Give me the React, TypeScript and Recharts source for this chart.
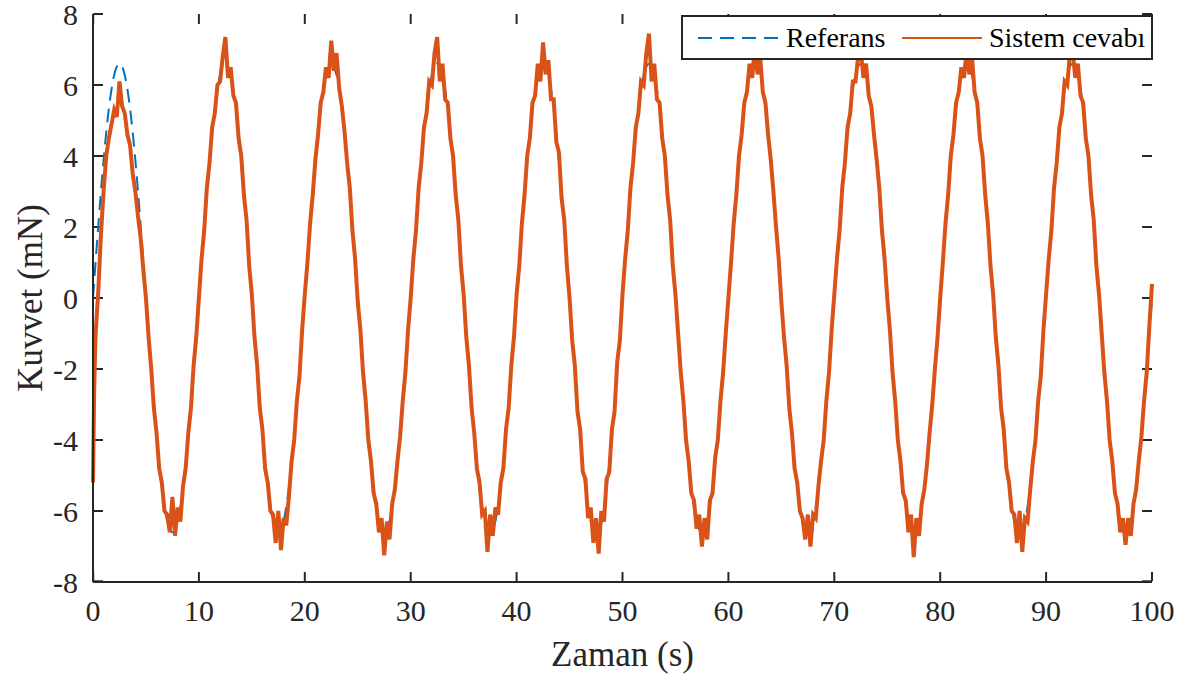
import React from 'react';
import { LineChart, Line, XAxis, YAxis, Label, ReferenceLine } from 'recharts';

// sample steps (s)
const REF_STEP = 0.5;
const SYS_STEP = 0.25;

const xTicks = [0, 10, 20, 30, 40, 50, 60, 70, 80, 90, 100];
const yTicks = [-8, -6, -4, -2, 0, 2, 4, 6, 8];

// Referans, every 0.5 s from 0 to 100
const refValues = [
  0, 2.04, 3.88, 5.34, 6.28, 6.6, 6.28, 5.34, 3.88, 2.04, 0, -2.04, -3.88, -5.34, -6.28, -6.6, -6.28, -5.34, -3.88, -2.04,
  0, 2.04, 3.88, 5.34, 6.28, 6.6, 6.28, 5.34, 3.88, 2.04, 0, -2.04, -3.88, -5.34, -6.28, -6.6, -6.28, -5.34, -3.88, -2.04,
  0, 2.04, 3.88, 5.34, 6.28, 6.6, 6.28, 5.34, 3.88, 2.04, 0, -2.04, -3.88, -5.34, -6.28, -6.6, -6.28, -5.34, -3.88, -2.04,
  0, 2.04, 3.88, 5.34, 6.28, 6.6, 6.28, 5.34, 3.88, 2.04, 0, -2.04, -3.88, -5.34, -6.28, -6.6, -6.28, -5.34, -3.88, -2.04,
  0, 2.04, 3.88, 5.34, 6.28, 6.6, 6.28, 5.34, 3.88, 2.04, 0, -2.04, -3.88, -5.34, -6.28, -6.6, -6.28, -5.34, -3.88, -2.04,
  0, 2.04, 3.88, 5.34, 6.28, 6.6, 6.28, 5.34, 3.88, 2.04, 0, -2.04, -3.88, -5.34, -6.28, -6.6, -6.28, -5.34, -3.88, -2.04,
  0, 2.04, 3.88, 5.34, 6.28, 6.6, 6.28, 5.34, 3.88, 2.04, 0, -2.04, -3.88, -5.34, -6.28, -6.6, -6.28, -5.34, -3.88, -2.04,
  0, 2.04, 3.88, 5.34, 6.28, 6.6, 6.28, 5.34, 3.88, 2.04, 0, -2.04, -3.88, -5.34, -6.28, -6.6, -6.28, -5.34, -3.88, -2.04,
  0, 2.04, 3.88, 5.34, 6.28, 6.6, 6.28, 5.34, 3.88, 2.04, 0, -2.04, -3.88, -5.34, -6.28, -6.6, -6.28, -5.34, -3.88, -2.04,
  0, 2.04, 3.88, 5.34, 6.28, 6.6, 6.28, 5.34, 3.88, 2.04, 0, -2.04, -3.88, -5.34, -6.28, -6.6, -6.28, -5.34, -3.88, -2.04,
  0,
];

// Sistem cevabı: start-up transient (irregular times)
const sysStartTimes = [0, 0.05, 0.1, 0.15, 0.2];
const sysStartValues = [-5.2, -4.0, -2.8, -2.1, -1.5];

// Sistem cevabı, every 0.25 s from 0.25 to 100 (one row per half period)
const sysValues = [
  -1.0, 0.2, 1.8, 3.0, 4.0, 4.5, 4.9, 5.3, 5.1, 6.1, 5.4, 5.2, 4.6, 4.3, 3.5, 3.0, 2.3, 1.7, 0.8, 0.0,
  -1.1, -2.0, -3.1, -3.8, -4.8, -5.2, -6.0, -6.1, -6.6, -5.6, -6.7, -5.9, -6.3, -5.3, -4.8, -3.8, -3.1, -1.9, -1.1, 0.0,
  1.1, 1.9, 3.1, 3.8, 4.8, 5.2, 6.0, 6.1, 6.8, 7.35, 6.2, 6.5, 5.7, 5.5, 4.5, 4.0, 2.9, 2.2, 0.9, 0.1,
  -1.1, -1.9, -3.1, -3.7, -4.8, -5.2, -6.0, -6.1, -6.9, -6.0, -7.1, -6.2, -6.4, -5.6, -4.6, -4.0, -2.9, -2.2, -0.9, 0.1,
  1.0, 2.1, 2.9, 3.9, 4.6, 5.5, 5.8, 6.5, 6.2, 7.25, 6.4, 6.9, 5.9, 5.4, 4.7, 3.8, 3.1, 1.9, 1.1, -0.1,
  -0.9, -2.1, -2.9, -4.0, -4.6, -5.5, -5.8, -6.6, -6.2, -7.25, -6.3, -6.8, -5.8, -5.4, -4.6, -3.9, -2.9, -2.1, -0.9, 0.0,
  1.1, 1.9, 3.1, 3.8, 4.8, 5.2, 6.1, 6.0, 6.9, 7.35, 6.1, 6.6, 5.6, 5.5, 4.5, 4.0, 2.9, 2.2, 0.9, 0.1,
  -1.1, -1.9, -3.1, -3.8, -4.8, -5.2, -6.1, -6.0, -7.15, -6.1, -6.7, -5.9, -6.1, -5.2, -4.8, -3.7, -3.1, -1.9, -1.1, 0.1,
  0.9, 2.1, 2.9, 4.0, 4.5, 5.5, 5.7, 6.6, 6.1, 7.2, 6.3, 6.7, 5.6, 5.6, 4.4, 4.1, 2.8, 2.2, 0.9, 0.0,
  -1.2, -1.9, -3.2, -3.7, -4.9, -5.1, -6.2, -5.9, -6.9, -6.2, -7.2, -6.0, -6.3, -5.1, -4.9, -3.7, -3.2, -1.8, -1.2, 0.1,
  1.1, 1.9, 3.1, 3.8, 4.8, 5.2, 6.1, 6.0, 6.9, 7.45, 6.1, 6.6, 5.6, 5.5, 4.5, 4.0, 2.9, 2.2, 0.9, 0.1,
  -1.0, -2.1, -2.9, -4.0, -4.6, -5.5, -5.7, -6.5, -6.1, -7.0, -6.2, -6.8, -5.7, -5.5, -4.5, -4.0, -2.9, -2.1, -1.0, 0.0,
  1.0, 2.1, 2.9, 4.0, 4.6, 5.5, 5.8, 6.6, 6.2, 7.1, 6.3, 6.8, 5.8, 5.5, 4.6, 3.9, 3.0, 2.0, 1.1, -0.1,
  -1.1, -1.9, -3.1, -3.8, -4.8, -5.2, -6.0, -6.2, -6.8, -6.1, -7.0, -6.1, -6.2, -5.3, -4.6, -4.0, -2.9, -2.1, -0.9, 0.1,
  1.1, 1.9, 3.1, 3.8, 4.8, 5.2, 6.1, 6.1, 6.8, 7.0, 6.2, 6.6, 5.7, 5.4, 4.6, 3.9, 3.1, 1.9, 1.1, 0.0,
  -0.9, -2.1, -2.9, -4.0, -4.6, -5.5, -5.7, -6.6, -6.1, -7.3, -6.2, -6.7, -5.8, -5.4, -4.7, -3.8, -3.0, -2.0, -1.1, 0.0,
  1.0, 2.1, 2.9, 4.0, 4.6, 5.5, 5.8, 6.5, 6.2, 7.0, 6.3, 6.8, 5.8, 5.5, 4.5, 4.0, 2.9, 2.1, 0.9, 0.1,
  -1.1, -1.9, -3.1, -3.7, -4.8, -5.2, -6.0, -6.1, -6.9, -6.0, -7.15, -6.2, -6.3, -5.4, -4.6, -4.0, -2.9, -2.2, -0.9, 0.1,
  1.1, 1.9, 3.1, 3.8, 4.8, 5.2, 6.1, 6.0, 6.9, 7.0, 6.2, 6.6, 5.7, 5.5, 4.5, 4.0, 2.9, 2.2, 0.9, 0.1,
  -1.0, -2.1, -2.9, -4.0, -4.6, -5.5, -5.8, -6.6, -6.2, -6.95, -6.2, -6.7, -5.8, -5.4, -4.6, -3.9, -2.9, -2.1, -0.8, 0.4,
];

const refData = refValues.map((v, i) => ({ t: i * REF_STEP, v }));
const sysData = [
  ...sysStartTimes.map((t, i) => ({ t, v: sysStartValues[i] })),
  ...sysValues.map((v, i) => ({ t: (i + 1) * SYS_STEP, v })),
];

const X_MIN = 0;
const X_MAX = 100;
const Y_MIN = -8;
const Y_MAX = 8;
// inward tick length, in axis units (about 10 px each way)
const X_TICK_LEN = 0.28;
const Y_TICK_LEN = 0.94;
// keep tick segments a hair inside the low edges so they are not dropped
const EDGE = 0.02;

const FONT = '"Liberation Serif", "Times New Roman", serif';
const AXIS = '#262626';
const BLUE = '#0072BD';
const ORANGE = '#D95319';

const axisLine = { stroke: AXIS, strokeWidth: 2 };
const tickText = { fontSize: 30, fontFamily: FONT, fill: AXIS };

const Legend = () => (
  <div
    style={{
      position: 'absolute',
      left: 681,
      top: 15,
      width: 472,
      height: 45,
      boxSizing: 'border-box',
      border: `2px solid ${AXIS}`,
      background: '#fff',
      fontFamily: FONT,
      fontSize: 28,
      color: '#000',
    }}
  >
    <svg style={{ position: 'absolute', left: 14, top: 16 }} width={82} height={10}>
      <line x1={1} x2={81} y1={5} y2={5} stroke={BLUE} strokeWidth={2} strokeDasharray="14 8" />
    </svg>
    <span style={{ position: 'absolute', left: 103, top: 0, lineHeight: '41px' }}>Referans</span>
    <svg style={{ position: 'absolute', left: 218, top: 16 }} width={82} height={10}>
      <line x1={1} x2={81} y1={5} y2={5} stroke={ORANGE} strokeWidth={2} />
    </svg>
    <span style={{ position: 'absolute', left: 306, top: 0, lineHeight: '41px' }}>Sistem cevabı</span>
  </div>
);

export default function App() {
  const tickMark = { stroke: AXIS, strokeWidth: 2, ifOverflow: 'visible' as const };
  return (
    <div style={{ position: 'absolute', left: 0, top: 0, width: 1191, height: 682, background: '#fff' }}>
      <LineChart width={1191} height={682} margin={{ top: 14, right: 39, bottom: 70, left: 0 }}>
        <XAxis
          dataKey="t"
          type="number"
          domain={[X_MIN, X_MAX]}
          ticks={xTicks}
          interval={0}
          height={30}
          tickSize={0}
          tickMargin={18}
          tickLine={false}
          tick={tickText}
          axisLine={axisLine}
        >
          <Label
            content={({ viewBox }: any) => (
              <text
                x={viewBox.x + viewBox.width / 2}
                y={viewBox.y + viewBox.height + 29}
                dy="0.71em"
                textAnchor="middle"
                fontSize={35}
                fontFamily={FONT}
                fill={AXIS}
              >
                Zaman (s)
              </text>
            )}
          />
        </XAxis>
        <XAxis
          xAxisId="top"
          orientation="top"
          type="number"
          domain={[X_MIN, X_MAX]}
          ticks={xTicks}
          height={0}
          tickLine={false}
          tick={false}
          axisLine={axisLine}
        />
        <YAxis
          type="number"
          domain={[Y_MIN, Y_MAX]}
          ticks={yTicks}
          interval={0}
          width={93}
          tickSize={0}
          tickMargin={15}
          tickLine={false}
          tick={tickText}
          axisLine={axisLine}
        >
          <Label
            content={({ viewBox }: any) => {
              const cx = 30;
              const cy = viewBox.y + viewBox.height / 2;
              return (
                <text
                  x={cx}
                  y={cy}
                  dy="0.35em"
                  textAnchor="middle"
                  transform={`rotate(-90 ${cx} ${cy})`}
                  fontSize={35}
                  fontFamily={FONT}
                  fill={AXIS}
                >
                  Kuvvet (mN)
                </text>
              );
            }}
          />
        </YAxis>
        <YAxis
          yAxisId="right"
          orientation="right"
          type="number"
          domain={[Y_MIN, Y_MAX]}
          ticks={yTicks}
          width={0}
          tickLine={false}
          tick={false}
          axisLine={axisLine}
        />
        {xTicks.map((t) => (
          <ReferenceLine
            key={`xb-${t}`}
            segment={[
              { x: Math.min(Math.max(t, X_MIN + EDGE), X_MAX), y: Y_MIN + EDGE },
              { x: Math.min(Math.max(t, X_MIN + EDGE), X_MAX), y: Y_MIN + X_TICK_LEN },
            ]}
            {...tickMark}
          />
        ))}
        {xTicks.map((t) => (
          <ReferenceLine
            key={`xt-${t}`}
            segment={[
              { x: Math.max(t, X_MIN + EDGE), y: Y_MAX },
              { x: Math.max(t, X_MIN + EDGE), y: Y_MAX - X_TICK_LEN },
            ]}
            {...tickMark}
          />
        ))}
        {yTicks.map((v) => (
          <ReferenceLine
            key={`yl-${v}`}
            segment={[
              { x: X_MIN + EDGE, y: Math.max(v, Y_MIN + EDGE) },
              { x: X_MIN + Y_TICK_LEN, y: Math.max(v, Y_MIN + EDGE) },
            ]}
            {...tickMark}
          />
        ))}
        {yTicks.map((v) => (
          <ReferenceLine
            key={`yr-${v}`}
            segment={[
              { x: X_MAX, y: Math.max(v, Y_MIN + EDGE) },
              { x: X_MAX - Y_TICK_LEN, y: Math.max(v, Y_MIN + EDGE) },
            ]}
            {...tickMark}
          />
        ))}
        <Line
          data={refData}
          dataKey="v"
          name="Referans"
          type="monotone"
          stroke={BLUE}
          strokeWidth={2}
          strokeDasharray="14 8"
          dot={false}
          activeDot={false}
          isAnimationActive={false}
        />
        <Line
          data={sysData}
          dataKey="v"
          name="Sistem cevabı"
          type="linear"
          stroke={ORANGE}
          strokeWidth={4}
          dot={false}
          activeDot={false}
          isAnimationActive={false}
        />
      </LineChart>
      <Legend />
    </div>
  );
}
